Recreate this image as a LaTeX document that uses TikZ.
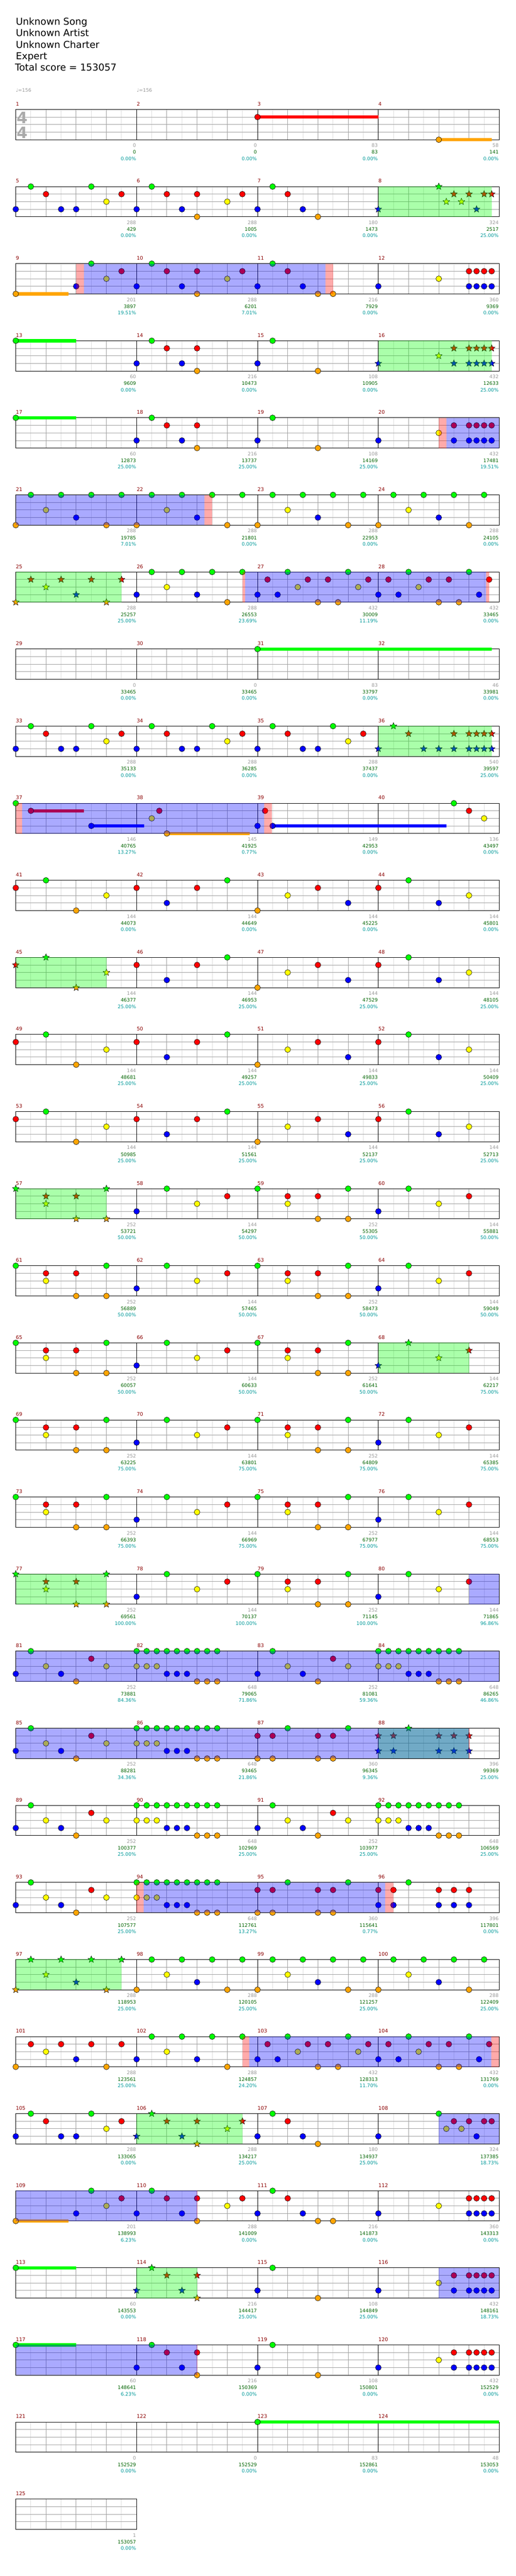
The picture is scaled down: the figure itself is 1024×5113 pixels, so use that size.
\documentclass[tikz,border=0pt]{standalone}
\usepackage{fontspec}
\setmainfont{DejaVu Sans}
\usetikzlibrary{shapes.geometric}
\definecolor{lane0}{RGB}{0,255,0}
\definecolor{lane1}{RGB}{255,0,0}
\definecolor{lane2}{RGB}{255,255,0}
\definecolor{lane3}{RGB}{0,0,255}
\definecolor{lane4}{RGB}{255,165,0}
\definecolor{gridD}{RGB}{160,160,160}
\definecolor{gridL}{RGB}{222,222,222}
\definecolor{mnum}{RGB}{139,0,0}
\definecolor{sgray}{RGB}{153,153,153}
\definecolor{sgreen}{RGB}{0,100,0}
\definecolor{scyan}{RGB}{0,153,153}
\definecolor{tsig}{RGB}{170,170,170}
\tikzset{
  note/.style={circle, draw=black, line width=0.6pt, minimum size=11.5pt, inner sep=0pt},
  starnote/.style={star, star points=5, star point ratio=2.3, draw=black, line width=0.6pt, minimum size=14pt, inner sep=0pt},
  susbar/.style={line width=6.5pt},
  spreg/.style={fill=lane0, fill opacity=0.333},
  bluereg/.style={fill=lane3, fill opacity=0.333},
  pinkreg/.style={fill=lane1, fill opacity=0.333},
  mlabel/.style={anchor=base west, inner sep=0pt, text=mnum, font=\fontsize{10}{10}\selectfont},
  sc/.style={anchor=base east, inner sep=0pt, font=\fontsize{9.5}{10}\selectfont},
  hdr/.style={anchor=base west, inner sep=0pt, font=\fontsize{19}{23}\selectfont},
  gl/.style={draw=gridL, line width=1pt},
  gd/.style={draw=gridD, line width=1pt},
  gb/.style={draw=black, line width=1pt},
}
\newcommand\setpos[2]{%
  \pgfmathtruncatemacro\mr{(#1-1)/4}%
  \pgfmathtruncatemacro\mc{#1-1-4*\mr}%
  \pgfmathsetmacro\px{31.3+240*\mc+#2}%
  \pgfmathsetmacro\py{217.3+153*\mr}}
\newcommand\notes[2]{\edef\tmplist{#2}%
  \foreach \o/\l in \tmplist {\setpos{#1}{\o}%
    \node[note, fill=lane\l] (n#1-\o-\l) at (\px,{\py+15*\l}) {};}}
\newcommand\stars[2]{\edef\tmplist{#2}%
  \foreach \o/\l in \tmplist {\setpos{#1}{\o}%
    \node[starnote, fill=lane\l] (s#1-\o-\l) at (\px,{\py+15*\l}) {};}}
\newcommand\sus[4]{\setpos{#1}{#2}%
  \draw[susbar, draw=lane#3] (\px,{\py+15*#3}) -- ({\px+#4-#2},{\py+15*#3});}
\newcommand\region[4]{\setpos{#2}{#3}%
  \fill[#1] (\px,\py) rectangle ({\px+#4-#3},{\py+60});}
\newcommand\rowgrid[2]{%
  \pgfmathsetmacro\ty{217.3+153*#1}%
  \pgfmathtruncatemacro\nq{4*#2}%
  \pgfmathsetmacro\xe{31.3+240*#2}%
  \foreach \k in {1,...,\nq} {\draw[gl] ({31.3+60*\k-30},\ty) -- ++(0,60);}
  \foreach \k in {1,...,\nq} {\draw[gd] ({31.3+60*\k},\ty) -- ++(0,60);}
  \foreach \j in {1,2,3} {\draw[gd] (31.3,{\ty+15*\j}) -- (\xe,{\ty+15*\j});}
  \foreach \j in {1,...,#2} {\draw[gb] ({31.3+240*\j},\ty) -- ++(0,60);}
  \draw[gb] (31.3,\ty) rectangle (\xe,{\ty+60});}
\newcommand\mi[4]{\setpos{#1}{0}%
  \node[mlabel] (lab#1) at (\px,{\py-7.3}) {#1};
  \node[sc,text=sgray] (sg#1) at ({\px+239},{\py+75}) {#2};
  \node[sc,text=sgreen] (ss#1) at ({\px+239},{\py+88.4}) {#3};
  \node[sc,text=scyan] (sp#1) at ({\px+239},{\py+101}) {#4\%};}
% patterns
\def\pA{0/0,60/1,60/2,120/1,120/4,180/0,180/4}
\def\pB{0/3,60/0,120/2,180/1}
\def\pC{0/3,30/0,60/2,90/3,120/4,150/1,180/2}
\def\pD{0/0,20/0,40/0,60/0,80/0,100/0,120/0,140/0,160/0,0/2,20/2,40/2,60/3,80/3,100/3,120/4,140/4,160/4}
\def\pE{0/1,0/4,30/1,30/4,60/0,120/1,120/4,150/1,150/4,180/0}
\def\pF{0/1,0/3,30/1,30/3,60/0,120/1,120/3,150/1,150/3,180/1,180/3}
\def\pG{0/4,30/0,60/2,90/0,120/3,150/0,180/4,210/0}
\def\pH{0/3,30/0,60/1,90/3,120/3,150/0,180/2,210/1}
\def\pI{0/3,30/0,60/1,90/3,120/1,120/4,180/2,210/1}
\def\pJ{0/3,120/2,180/1,195/1,210/1,225/1,180/3,195/3,210/3,225/3}
\def\pK{0/3,120/2,150/1,150/3,180/1,195/1,210/1,225/1,180/3,195/3,210/3,225/3}
\def\pL{0/3,20/1,40/3,60/0,80/2,100/1,120/4,140/1,160/4,180/0,200/2,220/1}
\def\pM{0/3,20/1,40/3,60/0,80/2,100/1,120/4,140/1,160/4,180/0,200/3,220/1}
\def\pN{0/3,30/0,60/1,90/3,120/1,120/4}
\def\pO{0/3,30/0,60/1,90/3,120/4}
\def\pP{0/3,120/0,135/2,150/1,165/2,180/1,195/3,210/1,225/1}
\begin{document}
\begin{tikzpicture}[x=1pt,y=-1pt]
\useasboundingbox (0,0) rectangle (1024,5113);
\fill[white] (0,0) rectangle (1024,5113);
% header
\node[hdr] (h1) at (31.3,49.3) {Unknown Song};
\node[hdr] (h2) at (31.3,72) {Unknown Artist};
\node[hdr] (h3) at (31.3,95.3) {Unknown Charter};
\node[hdr] (h4) at (31.3,118.3) {Expert};
\node[hdr] (h5) at (29.5,141) {Total score = 153057};
\node[anchor=base west, inner sep=0pt, text=sgray, font=\fontsize{9.5}{10}\selectfont] (tp1) at (31.3,183) {♩=156};
\node[anchor=base west, inner sep=0pt, text=sgray, font=\fontsize{9.5}{10}\selectfont] (tp2) at (271.3,183) {♩=156};
% grids
\foreach \r in {0,...,30} {\rowgrid{\r}{4}}
\rowgrid{31}{1}
\node[anchor=base, inner sep=0pt, text=tsig, font=\fontsize{31}{31}\selectfont\bfseries] (ts1) at (44,245) {4};
\node[anchor=base, inner sep=0pt, text=tsig, font=\fontsize{31}{31}\selectfont\bfseries] (ts2) at (44,274.5) {4};
% row 1
\sus{3}{0}{1}{240}\notes{3}{0/1}
\sus{4}{120}{4}{225}\notes{4}{120/4}
% row 2
\notes{5}{\pH}
\notes{6}{\pI}
\notes{7}{\pO}
\stars{8}{\pP}
\region{spreg}{8}{0}{225}
% row 3
\sus{9}{0}{4}{105}\notes{9}{0/4,120/3,150/0,180/2,210/1}
\notes{10}{\pI}
\notes{11}{0/3,30/0,60/1,90/3,120/4,150/4}
\notes{12}{\pJ}
\region{pinkreg}{9}{120}{135}
\region{bluereg}{9}{135}{615}
\region{pinkreg}{11}{135}{150}
% row 4
\sus{13}{0}{0}{120}\notes{13}{0/0}
\notes{14}{\pN}
\notes{15}{0/3,30/0,120/4}
\stars{16}{\pK}
\region{spreg}{16}{0}{225}
% row 5
\sus{17}{0}{0}{120}\notes{17}{0/0}
\notes{18}{\pN}
\notes{19}{0/3,30/0,120/4}
\notes{20}{\pK}
\region{pinkreg}{20}{120}{135}
\region{bluereg}{20}{135}{240}
% row 6
\notes{21}{\pG}
\notes{22}{\pG}
\notes{23}{\pG}
\notes{24}{\pG}
\region{bluereg}{21}{0}{375}
\region{pinkreg}{22}{135}{150}
% row 7
\stars{25}{0/4,30/1,60/2,90/1,120/3,150/1,180/4,210/1}
\region{spreg}{25}{0}{210}
\notes{26}{0/3,30/0,60/2,90/0,120/3,150/0,180/4,210/0}
\notes{27}{\pL}
\notes{28}{\pM}
\region{pinkreg}{26}{210}{215}
\region{bluereg}{26}{215}{694}
\region{pinkreg}{28}{214}{220}
% row 8
\sus{31}{0}{0}{465}\notes{31}{0/0}
% row 9
\notes{33}{\pH}
\notes{34}{\pH}
\notes{35}{\pH}
\stars{36}{0/3,30/0,60/1,90/3,120/3,150/1,150/3,180/1,195/1,210/1,225/1,180/3,195/3,210/3,225/3}
\region{spreg}{36}{0}{225}
% row 10
\sus{37}{30}{1}{135}\sus{37}{150}{3}{255}
\notes{37}{0/0,30/1,150/3}
\sus{38}{60}{4}{225}\notes{38}{30/2,45/1,60/4}
\sus{39}{30}{3}{375}\notes{39}{0/3,15/1,30/3}
\notes{40}{150/0,180/1,210/2}
\region{pinkreg}{37}{0}{13}
\region{bluereg}{37}{13}{493}
\region{pinkreg}{39}{13}{29}
% row 11
\notes{41}{0/1,60/0,120/4,180/2}
\notes{42}{0/1,60/3,120/1,180/0}
\notes{43}{0/4,60/2,120/1,180/3}
\notes{44}{0/1,60/0,120/3,180/2}
% row 12
\stars{45}{0/1,60/0,120/4,180/2}
\region{spreg}{45}{0}{180}
\notes{46}{0/1,60/3,120/1,180/0}
\notes{47}{0/4,60/2,120/1,180/3}
\notes{48}{0/1,60/0,120/3,180/2}
% rows 13-14
\notes{49}{0/1,60/0,120/4,180/2}
\notes{50}{0/1,60/3,120/1,180/0}
\notes{51}{0/4,60/2,120/1,180/3}
\notes{52}{0/1,60/0,120/3,180/2}
\notes{53}{0/1,60/0,120/4,180/2}
\notes{54}{0/1,60/3,120/1,180/0}
\notes{55}{0/4,60/2,120/1,180/3}
\notes{56}{0/1,60/0,120/3,180/2}
% row 15
\stars{57}{\pA}
\region{spreg}{57}{0}{180}
\notes{58}{\pB}
\notes{59}{\pA}
\notes{60}{\pB}
% row 16
\notes{61}{\pA}
\notes{62}{\pB}
\notes{63}{\pA}
\notes{64}{\pB}
% row 17
\notes{65}{\pA}
\notes{66}{\pB}
\notes{67}{\pA}
\stars{68}{\pB}
\region{spreg}{68}{0}{180}
% row 18
\notes{69}{\pA}
\notes{70}{\pB}
\notes{71}{\pA}
\notes{72}{\pB}
% row 19
\notes{73}{\pA}
\notes{74}{\pB}
\notes{75}{\pA}
\notes{76}{\pB}
% row 20
\stars{77}{\pA}
\region{spreg}{77}{0}{180}
\notes{78}{\pB}
\notes{79}{\pA}
\notes{80}{\pB}
\region{bluereg}{80}{180}{240}
% row 21
\notes{81}{\pC}
\notes{82}{\pD}
\notes{83}{\pC}
\notes{84}{\pD}
\region{bluereg}{81}{0}{960}
% row 22
\notes{85}{\pC}
\notes{86}{\pD}
\notes{87}{\pE}
\stars{88}{\pF}
\region{spreg}{88}{0}{180}
\region{bluereg}{85}{0}{900}
\region{pinkreg}{88}{179}{181}
% row 23
\notes{89}{\pC}
\notes{90}{\pD}
\notes{91}{\pC}
\notes{92}{\pD}
% row 24
\notes{93}{\pC}
\notes{94}{\pD}
\notes{95}{\pE}
\notes{96}{\pF}
\region{pinkreg}{94}{0}{14}
\region{bluereg}{94}{14}{494}
\region{pinkreg}{96}{14}{30}
% row 25
\stars{97}{\pG}
\region{spreg}{97}{0}{210}
\notes{98}{\pG}
\notes{99}{\pG}
\notes{100}{\pG}
% row 26
\notes{101}{0/4,30/1,60/2,90/1,120/3,150/1,180/4,210/1}
\notes{102}{0/3,30/0,60/2,90/0,120/3,150/0,180/4,210/0}
\notes{103}{\pL}
\notes{104}{\pM}
\region{pinkreg}{102}{210}{224}
\region{bluereg}{102}{224}{704}
\region{pinkreg}{104}{224}{240}
% row 27
\notes{105}{\pH}
\stars{106}{\pI}
\region{spreg}{106}{0}{210}
\notes{107}{\pO}
\notes{108}{\pP}
\region{bluereg}{108}{120}{240}
% row 28
\sus{109}{0}{4}{105}\notes{109}{0/4,120/3,150/0,180/2,210/1}
\notes{110}{\pI}
\notes{111}{0/3,30/0,60/1,90/3,120/4,150/4}
\notes{112}{\pJ}
\region{bluereg}{109}{0}{360}
\region{pinkreg}{110}{119.5}{120.5}
% row 29
\sus{113}{0}{0}{120}\notes{113}{0/0}
\stars{114}{\pN}
\region{spreg}{114}{0}{120}
\notes{115}{0/3,30/0,120/4}
\notes{116}{\pK}
\region{bluereg}{116}{120}{240}
% row 30
\sus{117}{0}{0}{120}\notes{117}{0/0}
\notes{118}{\pN}
\notes{119}{0/3,30/0,120/4}
\notes{120}{\pK}
\region{bluereg}{117}{0}{360}
\region{pinkreg}{118}{119.5}{120.5}
% row 31
\sus{123}{0}{0}{480}\notes{123}{0/0}
% measure labels and scores
\mi{1}{0}{0}{0.00}
\mi{2}{0}{0}{0.00}
\mi{3}{83}{83}{0.00}
\mi{4}{58}{141}{0.00}
\mi{5}{288}{429}{0.00}
\mi{6}{288}{1005}{0.00}
\mi{7}{180}{1473}{0.00}
\mi{8}{324}{2517}{25.00}
\mi{9}{201}{3897}{19.51}
\mi{10}{288}{6201}{7.01}
\mi{11}{216}{7929}{0.00}
\mi{12}{360}{9369}{0.00}
\mi{13}{60}{9609}{0.00}
\mi{14}{216}{10473}{0.00}
\mi{15}{108}{10905}{0.00}
\mi{16}{432}{12633}{25.00}
\mi{17}{60}{12873}{25.00}
\mi{18}{216}{13737}{25.00}
\mi{19}{108}{14169}{25.00}
\mi{20}{432}{17481}{19.51}
\mi{21}{288}{19785}{7.01}
\mi{22}{288}{21801}{0.00}
\mi{23}{288}{22953}{0.00}
\mi{24}{288}{24105}{0.00}
\mi{25}{288}{25257}{25.00}
\mi{26}{288}{26553}{23.69}
\mi{27}{432}{30009}{11.19}
\mi{28}{432}{33465}{0.00}
\mi{29}{0}{33465}{0.00}
\mi{30}{0}{33465}{0.00}
\mi{31}{83}{33797}{0.00}
\mi{32}{46}{33981}{0.00}
\mi{33}{288}{35133}{0.00}
\mi{34}{288}{36285}{0.00}
\mi{35}{288}{37437}{0.00}
\mi{36}{540}{39597}{25.00}
\mi{37}{146}{40765}{13.27}
\mi{38}{145}{41925}{0.77}
\mi{39}{149}{42953}{0.00}
\mi{40}{136}{43497}{0.00}
\mi{41}{144}{44073}{0.00}
\mi{42}{144}{44649}{0.00}
\mi{43}{144}{45225}{0.00}
\mi{44}{144}{45801}{0.00}
\mi{45}{144}{46377}{25.00}
\mi{46}{144}{46953}{25.00}
\mi{47}{144}{47529}{25.00}
\mi{48}{144}{48105}{25.00}
\mi{49}{144}{48681}{25.00}
\mi{50}{144}{49257}{25.00}
\mi{51}{144}{49833}{25.00}
\mi{52}{144}{50409}{25.00}
\mi{53}{144}{50985}{25.00}
\mi{54}{144}{51561}{25.00}
\mi{55}{144}{52137}{25.00}
\mi{56}{144}{52713}{25.00}
\mi{57}{252}{53721}{50.00}
\mi{58}{144}{54297}{50.00}
\mi{59}{252}{55305}{50.00}
\mi{60}{144}{55881}{50.00}
\mi{61}{252}{56889}{50.00}
\mi{62}{144}{57465}{50.00}
\mi{63}{252}{58473}{50.00}
\mi{64}{144}{59049}{50.00}
\mi{65}{252}{60057}{50.00}
\mi{66}{144}{60633}{50.00}
\mi{67}{252}{61641}{50.00}
\mi{68}{144}{62217}{75.00}
\mi{69}{252}{63225}{75.00}
\mi{70}{144}{63801}{75.00}
\mi{71}{252}{64809}{75.00}
\mi{72}{144}{65385}{75.00}
\mi{73}{252}{66393}{75.00}
\mi{74}{144}{66969}{75.00}
\mi{75}{252}{67977}{75.00}
\mi{76}{144}{68553}{75.00}
\mi{77}{252}{69561}{100.00}
\mi{78}{144}{70137}{100.00}
\mi{79}{252}{71145}{100.00}
\mi{80}{144}{71865}{96.86}
\mi{81}{252}{73881}{84.36}
\mi{82}{648}{79065}{71.86}
\mi{83}{252}{81081}{59.36}
\mi{84}{648}{86265}{46.86}
\mi{85}{252}{88281}{34.36}
\mi{86}{648}{93465}{21.86}
\mi{87}{360}{96345}{9.36}
\mi{88}{396}{99369}{25.00}
\mi{89}{252}{100377}{25.00}
\mi{90}{648}{102969}{25.00}
\mi{91}{252}{103977}{25.00}
\mi{92}{648}{106569}{25.00}
\mi{93}{252}{107577}{25.00}
\mi{94}{648}{112761}{13.27}
\mi{95}{360}{115641}{0.77}
\mi{96}{396}{117801}{0.00}
\mi{97}{288}{118953}{25.00}
\mi{98}{288}{120105}{25.00}
\mi{99}{288}{121257}{25.00}
\mi{100}{288}{122409}{25.00}
\mi{101}{288}{123561}{25.00}
\mi{102}{288}{124857}{24.20}
\mi{103}{432}{128313}{11.70}
\mi{104}{432}{131769}{0.00}
\mi{105}{288}{133065}{0.00}
\mi{106}{288}{134217}{25.00}
\mi{107}{180}{134937}{25.00}
\mi{108}{324}{137385}{18.73}
\mi{109}{201}{138993}{6.23}
\mi{110}{288}{141009}{0.00}
\mi{111}{216}{141873}{0.00}
\mi{112}{360}{143313}{0.00}
\mi{113}{60}{143553}{0.00}
\mi{114}{216}{144417}{25.00}
\mi{115}{108}{144849}{25.00}
\mi{116}{432}{148161}{18.73}
\mi{117}{60}{148641}{6.23}
\mi{118}{216}{150369}{0.00}
\mi{119}{108}{150801}{0.00}
\mi{120}{432}{152529}{0.00}
\mi{121}{0}{152529}{0.00}
\mi{122}{0}{152529}{0.00}
\mi{123}{83}{152861}{0.00}
\mi{124}{48}{153053}{0.00}
\mi{125}{1}{153057}{0.00}
\end{tikzpicture}
\end{document}
